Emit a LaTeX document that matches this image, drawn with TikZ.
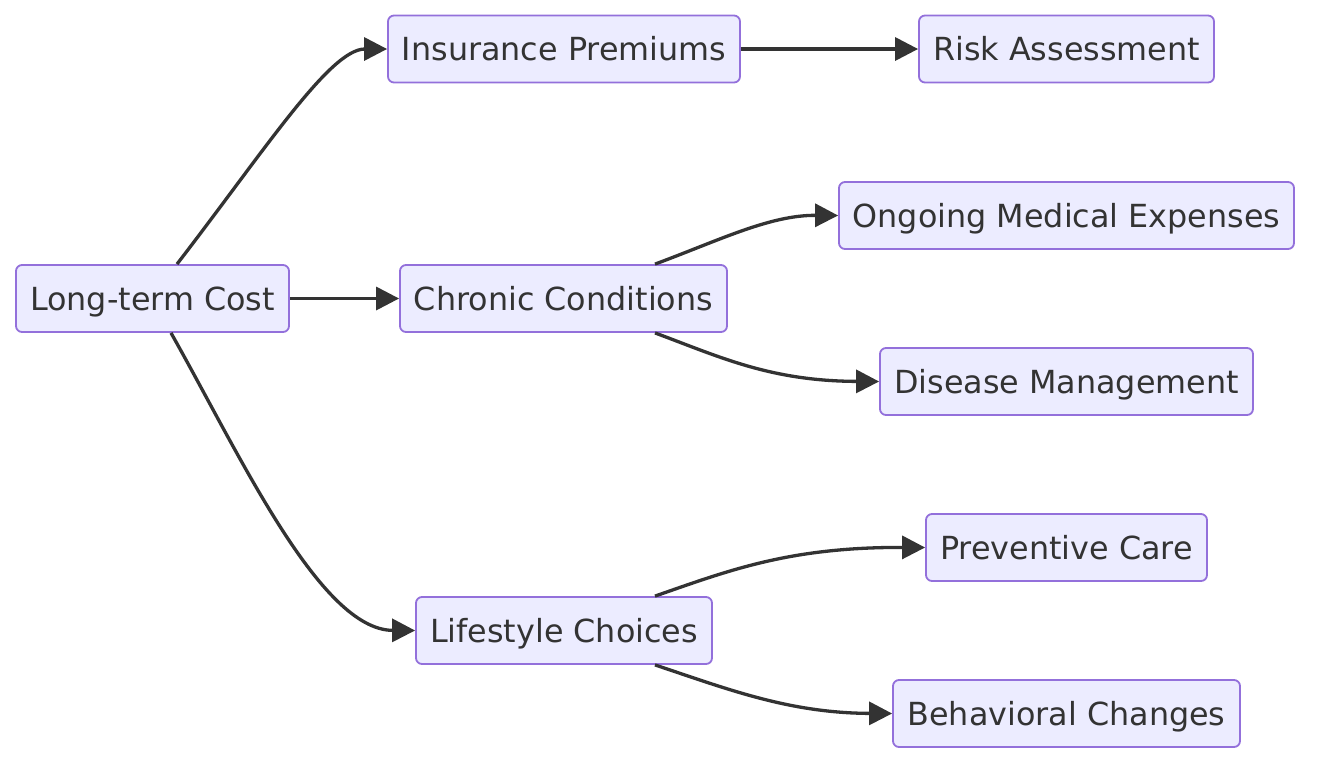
\documentclass[tikz,border=0pt]{standalone}
\usepackage{fontspec}
\setmainfont{DejaVu Sans}
\usetikzlibrary{arrows.meta}
\definecolor{nodefill}{HTML}{ECECFF}
\definecolor{nodedraw}{HTML}{9370DB}
\definecolor{txt}{HTML}{333333}
\definecolor{edge}{HTML}{333333}
\tikzset{
  box/.style={draw=nodedraw, fill=nodefill, line width=1.8pt, rounded corners=6pt,
    minimum height=67pt, inner xsep=0pt, inner ysep=0pt, text height=23.2pt, text depth=0pt,
    text=txt, font=\fontsize{31.8}{36}\selectfont},
  link/.style={draw=edge, line width=3.3pt, -{Triangle[length=23pt,width=23pt]}}
}
\begin{document}
\begin{tikzpicture}[x=1pt,y=-1pt]
\useasboundingbox (0,0) rectangle (1326,772);
\node[box, minimum width=273pt] (ltc) at (152.5,298.5) {Long-term Cost};
\node[box, minimum width=352pt] (ip) at (564,49) {Insurance Premiums};
\node[box, minimum width=327pt] (cc) at (563.5,298.5) {Chronic Conditions};
\node[box, minimum width=296pt] (lc) at (564,630.5) {Lifestyle Choices};
\node[box, minimum width=295pt] (ra) at (1066.5,49) {Risk Assessment};
\node[box, minimum width=455pt] (ome) at (1066.5,215.5) {Ongoing Medical Expenses};
\node[box, minimum width=373pt] (dm) at (1066.5,381.5) {Disease Management};
\node[box, minimum width=281pt] (pc) at (1066.5,547.5) {Preventive Care};
\node[box, minimum width=347pt] (bc) at (1066.5,713.5) {Behavioral Changes};

\draw[link] (ltc.north -| 177,0) .. controls (265,150) and (330,49) .. (ip.west);
\draw[link] (ltc.east) -- (cc.west);
\draw[link] (ltc.south -| 171,0) .. controls (240,455) and (320,630) .. (lc.west);
\draw[link] (ip.east) -- (ra.west);
\draw[link] (cc.north -| 655,0) .. controls (720,240) and (770,215) .. (ome.west);
\draw[link] (cc.south -| 655,0) .. controls (720,357) and (770,381) .. (dm.west);
\draw[link] (lc.north -| 655,0) .. controls (730,570) and (790,547) .. (pc.west);
\draw[link] (lc.south -| 655,0) .. controls (730,690) and (790,713) .. (bc.west);
\end{tikzpicture}
\end{document}
